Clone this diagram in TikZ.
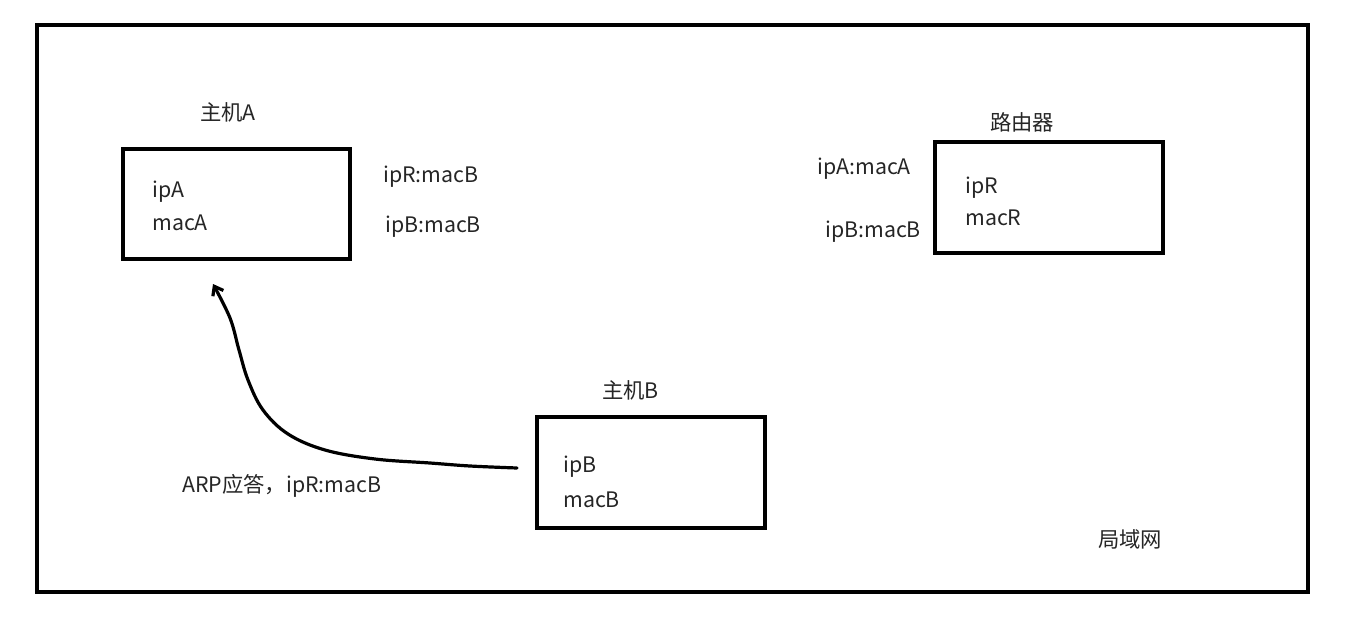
\documentclass[tikz,border=0pt]{standalone}
\usepackage{fontspec}
\setmainfont{Noto Sans CJK SC}
\usetikzlibrary{arrows.meta}
\begin{document}
\begin{tikzpicture}[x=0.75pt,y=-0.75pt,
  box/.style={draw,line width=3.6pt,inner sep=0},
  lbl/.style={anchor=base west,inner sep=0,font=\fontsize{16}{19}\selectfont,text=black!85}]
\useasboundingbox (0,0) rectangle (1354,632);
\fill[white] (0,0) rectangle (1354,632);
\draw[line width=3.6pt] (37,25) rectangle (1308,592);
% boxes
\draw[box] (123,149) rectangle (350,259);
\draw[box] (935,142) rectangle (1163,253);
\draw[box] (537,417) rectangle (765,528);
% labels
\node[lbl] (ha) at (200,120) {主机A};
\node[lbl] (ipa) at (152,197) {ipA};
\node[lbl] (maca) at (152,230) {macA};
\node[lbl] (t1) at (383,182) {ipR:macB};
\node[lbl] (t2) at (385,232) {ipB:macB};
\node[lbl] (rt) at (990,130) {路由器};
\node[lbl] (t3) at (817,174) {ipA:macA};
\node[lbl] (t4) at (825,237) {ipB:macB};
\node[lbl] (ipr) at (965,193) {ipR};
\node[lbl] (macr) at (965,225) {macR};
\node[lbl] (hb) at (602,398) {主机B};
\node[lbl] (ipb) at (563,472) {ipB};
\node[lbl] (macb) at (563,507) {macB};
\node[lbl] (arp) at (182,492) {ARP应答，ipR:macB};
\node[lbl] (lan) at (1098,547) {局域网};
% arrow
\coordinate (s) at (517,468);
\coordinate (e) at (213,284);
\draw[line width=2.4pt,line cap=round,line join=round,-{Straight Barb[length=6pt,width=9pt]}]
  plot[smooth,tension=0.6] coordinates {(s) (470,466) (430,463) (375,459) (325,450) (288,434) (263,410) (248,380) (239,350) (230,318) (213,284)};
\end{tikzpicture}
\end{document}
